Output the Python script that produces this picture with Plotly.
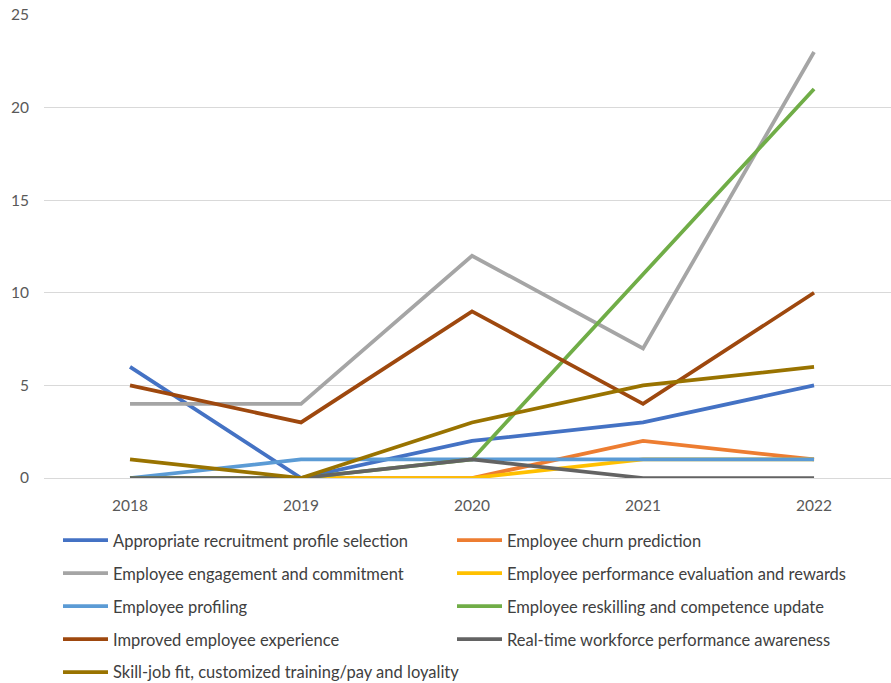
import plotly.graph_objects as go

years = ["2018", "2019", "2020", "2021", "2022"]
series_names = [
    "Appropriate recruitment profile selection",
    "Employee churn prediction",
    "Employee engagement and commitment",
    "Employee performance evaluation and rewards",
    "Employee profiling",
    "Employee reskilling and competence update",
    "Improved employee experience",
    "Real-time workforce performance awareness",
    "Skill-job fit, customized training/pay and loyality",
]
recruitment = [6, 0, 2, 3, 5]
churn = [0, 0, 0, 2, 1]
engagement = [4, 4, 12, 7, 23]
performance = [0, 0, 0, 1, 1]
profiling = [0, 1, 1, 1, 1]
reskilling = [0, 0, 1, 11, 21]
experience = [5, 3, 9, 4, 10]
realtime = [0, 0, 1, 0, 0]
skillfit = [1, 0, 3, 5, 6]
values = [recruitment, churn, engagement, performance, profiling,
          reskilling, experience, realtime, skillfit]
colors = ["#4472C4", "#ED7D31", "#A5A5A5", "#FFC000", "#5B9BD5",
          "#70AD47", "#9E480E", "#636363", "#997300"]

fig = go.Figure()
for i, (name, vals, c) in enumerate(zip(series_names, values, colors)):
    fig.add_trace(go.Scatter(x=years, y=vals, name=name, mode="lines",
                             line=dict(color=c, width=3.75),
                             legend="legend" if i % 2 == 0 else "legend2",
                             legendgroup=f"g{i}"))

legend_common = dict(orientation="v", xref="paper", yref="container",
                     xanchor="left", yanchor="top", tracegroupgap=8.5,
                     itemwidth=45,
                     font=dict(size=16.5, color="#404040",
                               family="Lato, sans-serif"),
                     traceorder="grouped", bgcolor="rgba(0,0,0,0)")

fig.update_layout(
    width=891, height=683,
    margin=dict(l=44, r=0, t=15, b=205, autoexpand=False),
    paper_bgcolor="white", plot_bgcolor="white",
    font=dict(family="Lato, sans-serif", color="#595959", size=15.5),
    xaxis=dict(type="category", range=[-0.503, 4.45], showgrid=False,
               showline=False, zeroline=False, ticks="",
               ticklabelstandoff=16,
               tickfont=dict(size=15.5, color="#595959")),
    yaxis=dict(range=[0, 25], dtick=5, showgrid=True, gridcolor="#D9D9D9",
               gridwidth=1, zeroline=True, zerolinecolor="#D9D9D9",
               zerolinewidth=1, showline=False, ticks="",
               ticklabelstandoff=14,
               tickfont=dict(size=15.5, color="#595959")),
    legend=dict(x=(58 - 44) / 847, y=1 - 523 / 683, **legend_common),
    legend2=dict(x=(452 - 44) / 847, y=1 - 523 / 683, **legend_common),
    showlegend=True,
)

fig.write_html("out.html")
